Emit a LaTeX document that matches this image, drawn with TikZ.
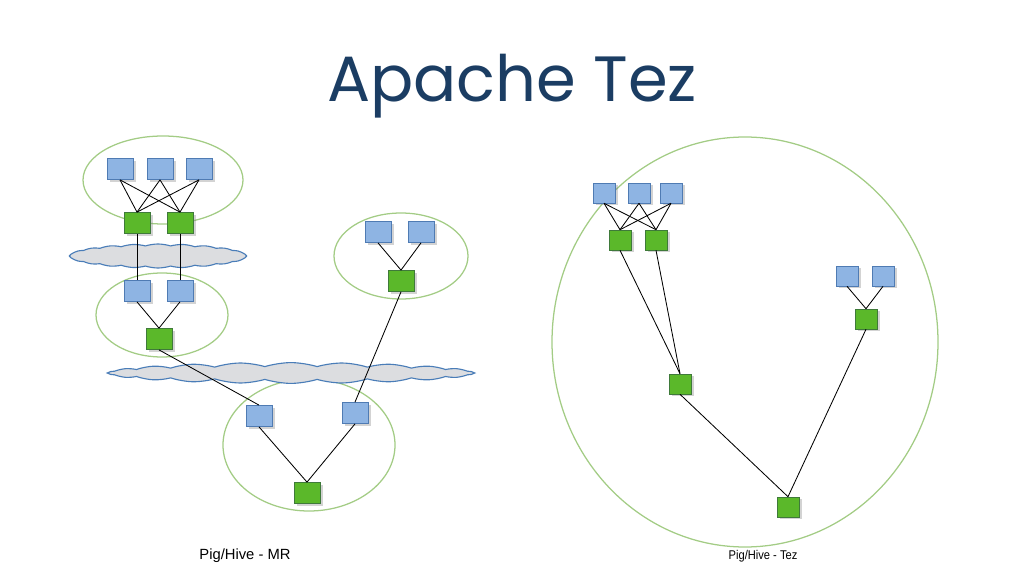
\documentclass[tikz,border=0pt]{standalone}
\usepackage{fontspec}
\setmainfont{Liberation Sans}
\newfontfamily\titlefont{Poppins}
\usetikzlibrary{shapes.symbols,shadows}
\definecolor{titleblue}{HTML}{1B3D63}
\definecolor{taskblue}{HTML}{8EB4E3}
\definecolor{taskedge}{HTML}{4F7BB3}
\definecolor{jobgreen}{HTML}{5BB82A}
\definecolor{jobedge}{HTML}{3F7A3A}
\definecolor{grpgreen}{HTML}{A3CC85}
\definecolor{cloudfill}{HTML}{DCDDE0}
\definecolor{cloudedge}{HTML}{4A7DB8}
\tikzset{
	mapbox/.style={draw=taskedge, fill=taskblue, minimum width=0.65cm, minimum height=0.53cm, inner sep=0pt, drop shadow={opacity=0.35, shadow xshift=2pt, shadow yshift=-1.5pt}},
	redbox/.style={draw=jobedge, fill=jobgreen, minimum width=0.65cm, minimum height=0.53cm, inner sep=0pt, drop shadow={opacity=0.35, shadow xshift=2pt, shadow yshift=-1.5pt}},
	small/.style={minimum width=0.55cm, minimum height=0.5cm},
	grp/.style={draw=grpgreen, line width=0.9pt},
	hdfs/.style={cloud, cloud puffs=22, cloud puff arc=35, draw=cloudedge, fill=cloudfill, line width=0.8pt, inner sep=0pt},
	edge/.style={draw=black, line width=0.6pt}
}

\begin{document}
\begin{tikzpicture}[x=0.025cm, y=-0.025cm]
	\useasboundingbox (0,0) rectangle (1024,576);
	\node[text=titleblue, font=\titlefont\fontsize{45.5}{50}\selectfont] (title) at (512,86) {Apache Tez};
	%
	% groups and clouds
	\draw[grp] (163,180) ellipse (80 and 44);
	\draw[grp] (162,315) ellipse (66 and 42);
	\draw[grp] (401,256) ellipse (67 and 43);
	\draw[grp] (309,445) ellipse (86 and 66);
	\draw[grp] (745,342) ellipse (193 and 205);
	\node[hdfs, minimum width=4.4cm, minimum height=0.6cm, aspect=7] (hdfsa) at (158,256) {};
	\node[hdfs, minimum width=9.1cm, minimum height=0.52cm, aspect=16] (hdfsb) at (291,373) {};
	%
	% Pig/Hive - MR
	\node[mapbox] (ma) at (120,169) {};
	\node[mapbox] (mb) at (160,169) {};
	\node[mapbox] (mc) at (199,169) {};
	\node[redbox] (ra) at (137,223) {};
	\node[redbox] (rb) at (180,223) {};
	\node[mapbox] (md) at (137,291) {};
	\node[mapbox] (me) at (180,291) {};
	\node[redbox] (rc) at (159,339) {};
	\node[mapbox] (mf) at (378,232) {};
	\node[mapbox] (mg) at (421,232) {};
	\node[redbox] (rd) at (401,281) {};
	\node[mapbox] (mh) at (259,416) {};
	\node[mapbox] (mi) at (355,413) {};
	\node[redbox] (re) at (307,493) {};
	%
	\foreach \m in {ma,mb,mc}
		\foreach \r in {ra,rb}
			\draw[edge] (\m.south) -- (\r.north);
	\draw[edge] (ra.south) -- (md.north);
	\draw[edge] (rb.south) -- (me.north);
	\draw[edge] (md.south) -- (rc.north);
	\draw[edge] (me.south) -- (rc.north);
	\draw[edge] (mf.south) -- (rd.north);
	\draw[edge] (mg.south) -- (rd.north);
	\draw[edge] (rc.south) -- (mh.north);
	\draw[edge] (rd.south) -- (mi.north);
	\draw[edge] (mh.south) -- (re.north);
	\draw[edge] (mi.south) -- (re.north);
	%
	% Pig/Hive - Tez
	\node[mapbox, small] (ta) at (604,193) {};
	\node[mapbox, small] (tb) at (639,193) {};
	\node[mapbox, small] (tc) at (671,193) {};
	\node[redbox, small] (ua) at (620,240) {};
	\node[redbox, small] (ub) at (656,240) {};
	\node[mapbox, small] (td) at (847,276) {};
	\node[mapbox, small] (te) at (883,276) {};
	\node[redbox, small] (uc) at (866,319) {};
	\node[redbox, small] (ud) at (680,384) {};
	\node[redbox, small] (ue) at (788,507) {};
	%
	\foreach \m in {ta,tb,tc}
		\foreach \r in {ua,ub}
			\draw[edge] (\m.south) -- (\r.north);
	\draw[edge] (td.south) -- (uc.north);
	\draw[edge] (te.south) -- (uc.north);
	\draw[edge] (ua.south) -- (ud.north);
	\draw[edge] (ub.south) -- (ud.north);
	\draw[edge] (ud.south) -- (ue.north);
	\draw[edge] (uc.south) -- (ue.north);
	%
	\node[font=\fontsize{10.5}{12}\selectfont] (mrlabel) at (245,556) {Pig/Hive - MR};
	\node[font=\fontsize{9}{11}\selectfont, xscale=0.88] (tezlabel) at (763,556) {Pig/Hive - Tez};
\end{tikzpicture}
\end{document}
